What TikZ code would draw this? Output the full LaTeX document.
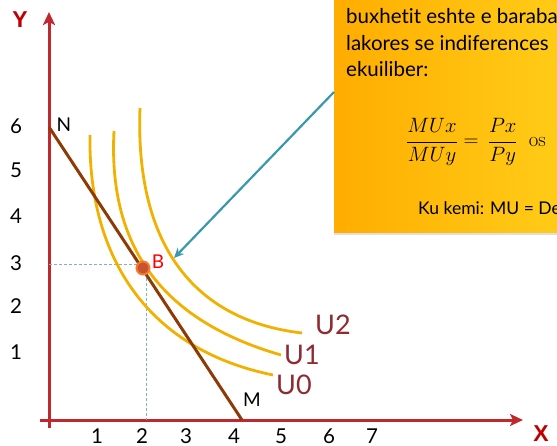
\documentclass[tikz,border=0pt]{standalone}
\usepackage[no-math]{fontspec}
\setmainfont{Lato}[RawFeature={-liga}]
\newfontfamily\heavyfont{Liberation Sans}
\usepackage{xcolor}
\usepackage{tikz}
\usetikzlibrary{arrows.meta,positioning,shadows}

\definecolor{axisred}{HTML}{C0282D}
\definecolor{budgetbrown}{HTML}{8E3A06}
\definecolor{curvegold}{HTML}{F2B000}
\definecolor{guideblue}{HTML}{7DB3C4}
\definecolor{pointerteal}{HTML}{3A98AE}
\definecolor{ulabelred}{HTML}{8E2A30}
\definecolor{noteorange}{HTML}{FFAD00}
\definecolor{noteyellow}{HTML}{FFD21C}
\definecolor{pointfill}{HTML}{C9532B}
\definecolor{pointring}{HTML}{F47A32}
\definecolor{labelred}{HTML}{C00000}

\begin{document}
\begin{tikzpicture}[
  x=1pt,y=-1pt,
  every node/.style={inner sep=0pt},
  axis/.style={draw=axisred,line width=3pt,-{Stealth[length=13pt,width=12pt,inset=3pt]}},
  budget/.style={draw=budgetbrown,line width=3pt},
  icurve/.style={draw=curvegold,line width=2.8pt},
  guide/.style={draw=guideblue,line width=1pt,dash pattern=on 3pt off 2pt},
  pointer/.style={draw=pointerteal,line width=2.2pt,-{Stealth[length=10pt,width=9pt]}},
  ticklbl/.style={font=\fontsize{20.5}{20.5}\selectfont},
  axislbl/.style={text=labelred,font=\fontsize{23}{23}\selectfont\heavyfont\bfseries},
  ulbl/.style={text=ulabelred,font=\fontsize{27}{27}\selectfont},
  ptlbl/.style={font=\fontsize{19}{19}\selectfont},
  notebox/.style={rectangle,left color=noteorange,right color=noteyellow,
    drop shadow={shadow xshift=0pt,shadow yshift=-2.5pt,opacity=0.25}},
  notetxt/.style={font=\fontsize{20.5}{20.5}\selectfont,anchor=base west},
  pointB/.style={circle,fill=pointfill,draw=pointring,line width=2pt,minimum size=13pt},
]
\useasboundingbox (0,0) rectangle (557,446);
\clip (0,0) rectangle (557,446);

\node[notebox,minimum width=270pt,minimum height=260pt,anchor=south west] (note) at (334,233) {};
\node[notetxt] (line1) at (346,24) {buxhetit eshte e baraba};
\node[notetxt] (line2) at (346,51) {lakores se indiferences};
\node[notetxt] (line3) at (346,77) {ekuiliber:};
\node[anchor=west,font=\fontsize{22}{22}\selectfont] (formula) at (406,142)
  {$\displaystyle\frac{MUx}{MUy}=\,\frac{Px}{Py}\ \ \mathrm{os}$};
\node[notetxt,font=\fontsize{17.5}{17.5}\selectfont] (kukemi) at (418,215) {Ku kemi: MU = De};

\coordinate (O) at (49,420);
\coordinate (ybot) at (49,428);
\coordinate (ytop) at (49,12);
\coordinate (xbeg) at (40,420);
\coordinate (xend) at (523,420);
\draw[axis] (ybot) -- (ytop);
\draw[axis] (xbeg) -- (xend);
\node[axislbl] (ylbl) at (20,20) {Y};
\node[axislbl] (xlbl) at (541,434) {X};

\node[ticklbl] (tx1) at (97,436) {1};
\node[ticklbl] (tx2) at (142,436) {2};
\node[ticklbl] (tx3) at (186,436) {3};
\node[ticklbl] (tx4) at (234,436) {4};
\node[ticklbl] (tx5) at (281,436) {5};
\node[ticklbl] (tx6) at (329,436) {6};
\node[ticklbl] (tx7) at (372,436) {7};
\node[ticklbl] (ty6) at (16,126) {6};
\node[ticklbl] (ty5) at (16,170) {5};
\node[ticklbl] (ty4) at (16,216) {4};
\node[ticklbl] (ty3) at (16,263) {3};
\node[ticklbl] (ty2) at (16,306) {2};
\node[ticklbl] (ty1) at (16,352) {1};

\coordinate (Bc) at (146,265);
\draw[guide] (Bc -| O) -- (Bc) -- (Bc |- O);

\draw[icurve] (90,135) .. controls (88,260) and (150,350) .. (273,375);
\draw[icurve] (114,131) .. controls (108,245) and (160,320) .. (281,355);
\draw[icurve] (140,108) .. controls (135,240) and (190,320) .. (302,333);
\node[ulbl] (u2) at (333,325) {U2};
\node[ulbl] (u1) at (302,355) {U1};
\node[ulbl] (u0) at (294,385) {U0};

\coordinate (Npt) at (49,127);
\coordinate (Mpt) at (242,420);
\draw[budget] (Npt) -- (Mpt);
\node[ptlbl] (nlbl) at (64,125) {N};
\node[ptlbl] (mlbl) at (252,400) {M};

\node[pointB] (B) at (143,268) {};
\node[ptlbl,text=red] (blbl) at (158,262) {B};

\coordinate (tail) at (334,92);
\coordinate (tip) at (174,258);
\draw[pointer] (tail) -- (tip);
\end{tikzpicture}
\end{document}
